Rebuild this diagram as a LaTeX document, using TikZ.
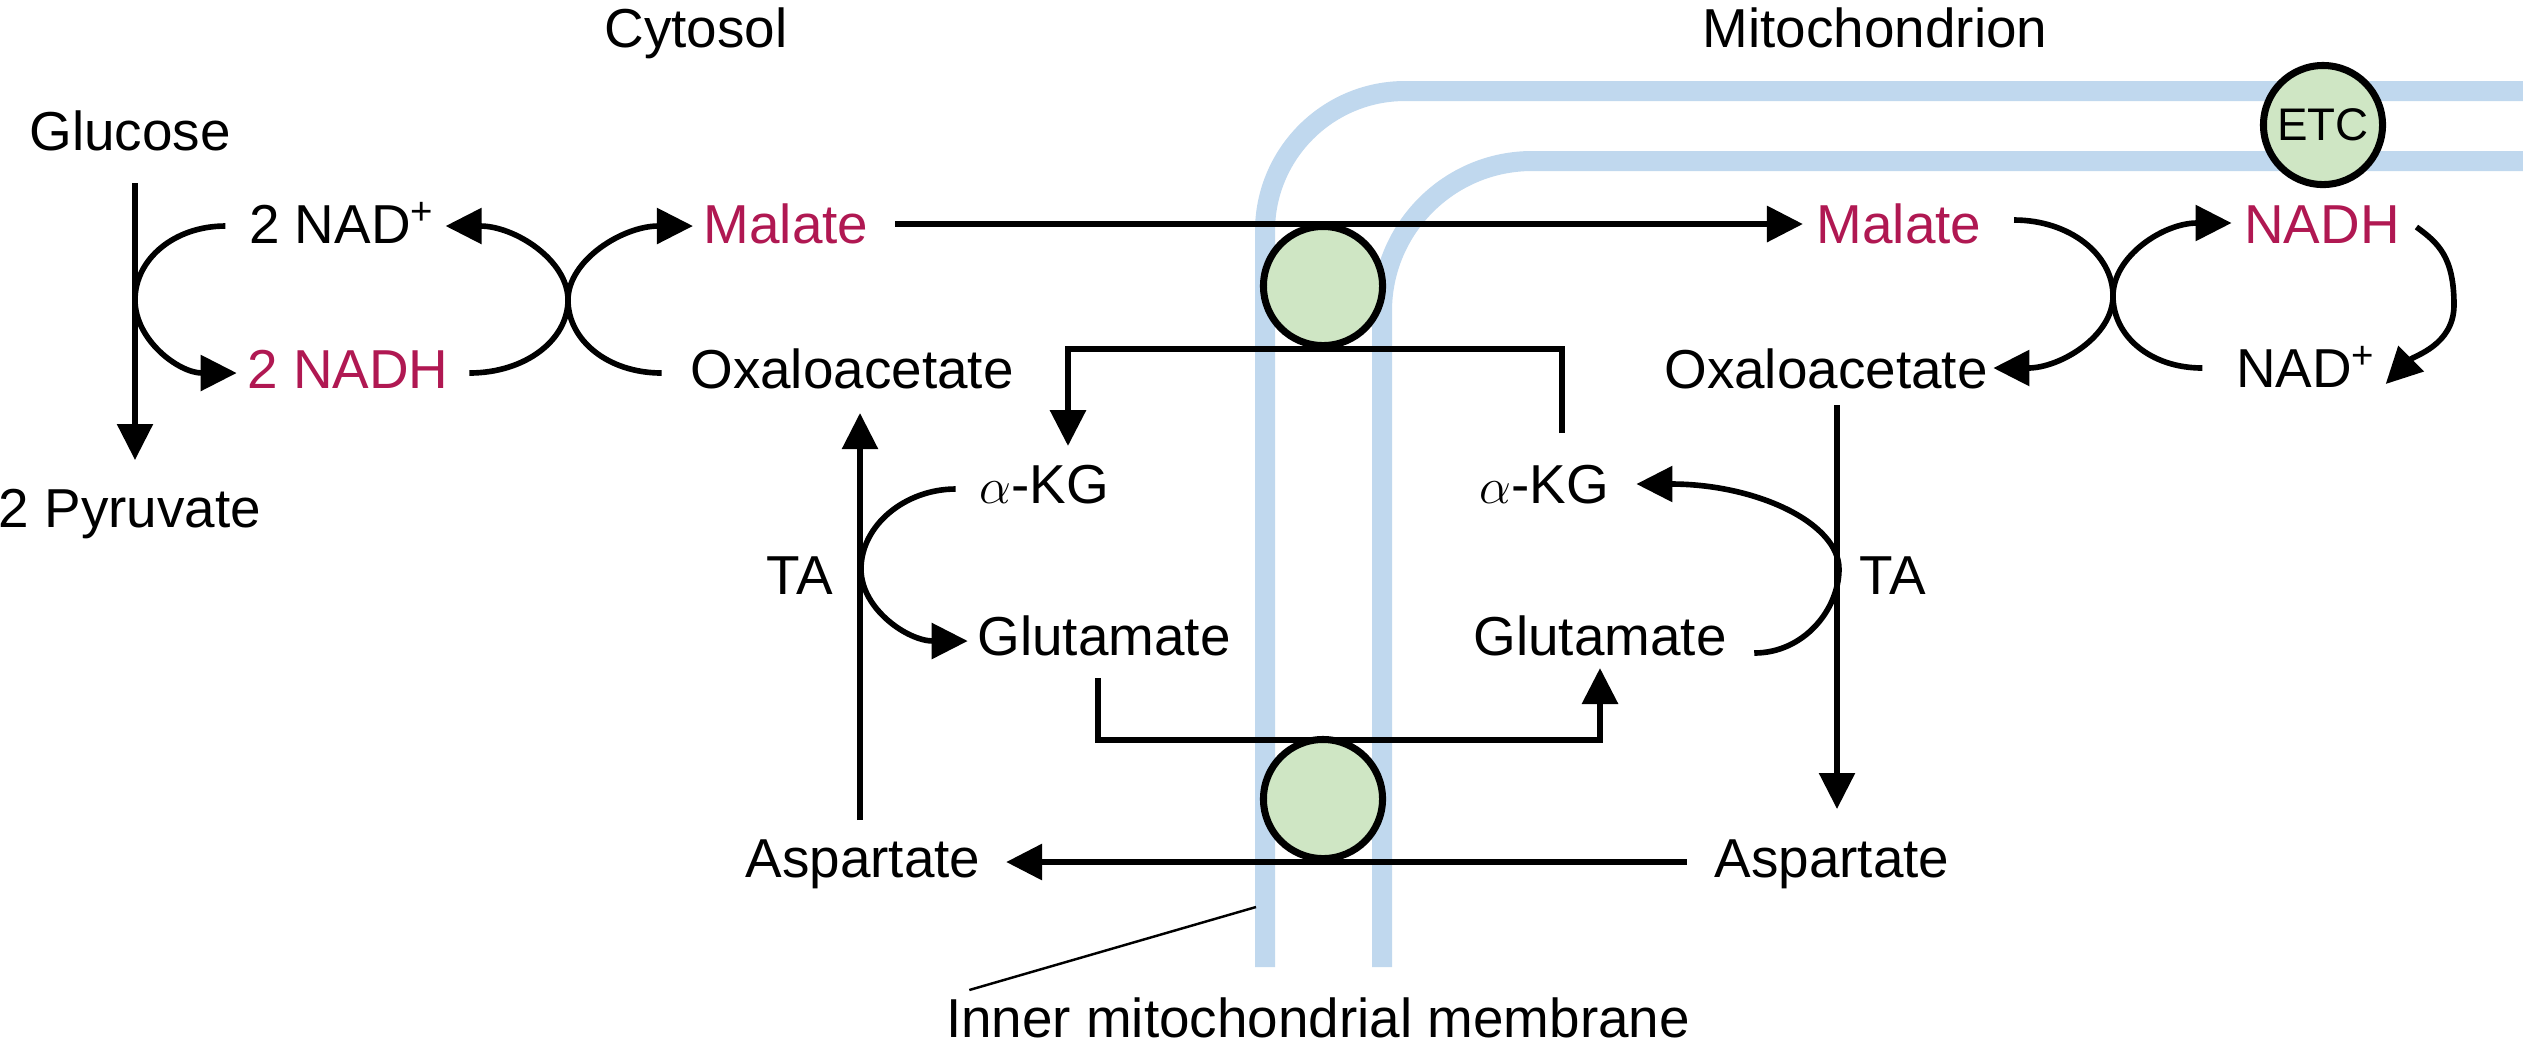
\documentclass[tikz,border=0pt]{standalone}
\usepackage{fontspec}
\setmainfont{Liberation Sans}
\usetikzlibrary{arrows.meta}
\definecolor{magc}{RGB}{176,24,82}
\definecolor{membc}{RGB}{192,216,238}
\definecolor{tgreen}{RGB}{207,230,196}
\begin{document}
\begin{tikzpicture}[x=0.01cm,y=-0.01cm,
  txt/.style={inner sep=0pt, anchor=base, font=\fontsize{15.6}{18}\selectfont},
  magt/.style={text=magc},
  con/.style={line width=1.6pt},
  arr/.style={con, -{Triangle[length=0.36cm,width=0.35cm]}},
  harr/.style={line width=1.8pt, -{Triangle[length=0.36cm,width=0.35cm]}},
  band/.style={draw=membc, line width=0.2cm},
  trans/.style={circle, draw=black, fill=tgreen, line width=2pt, minimum size=1.19cm, inner sep=0pt}]
\fill[white] (0,0) rectangle (2523,1056);
\useasboundingbox (0,0) rectangle (2523,1056);
% membranes
\draw[band, rounded corners=1.4cm] (1265,967) -- (1265,91) -- (2523,91);
\draw[band, rounded corners=1.5cm] (1382,967) -- (1382,161) -- (2523,161);
% labels
\node[txt] (cyt) at (696,47) {Cytosol};
\node[txt] (mito) at (1875,47) {Mitochondrion};
\node[txt] (glc) at (130,150) {Glucose};
\node[txt] (pyr) at (130,527) {2 Pyruvate};
\node[txt] (nadC) at (342,243) {2 NAD\textsuperscript{+}};
\node[txt,magt] (nadhC) at (348,388) {2 NADH};
\node[txt,magt] (malC) at (786,243) {Malate};
\node[txt] (oaaC) at (852,388) {Oxaloacetate};
\node[txt,magt] (malM) at (1899,243) {Malate};
\node[txt] (oaaM) at (1826,388) {Oxaloacetate};
\node[txt,magt] (nadhM) at (2322,243) {NADH};
\node[txt] (nadM) at (2306,387) {NAD\textsuperscript{+}};
\node[txt] (akgC) at (1044,503) {$\alpha$-KG};
\node[txt] (akgM) at (1544,503) {$\alpha$-KG};
\node[txt] (taC) at (800,594) {TA};
\node[txt] (taM) at (1893,594) {TA};
\node[txt] (gluC) at (1104,655) {Glutamate};
\node[txt] (gluM) at (1600,655) {Glutamate};
\node[txt] (aspC) at (863,877) {Aspartate};
\node[txt] (aspM) at (1832,877) {Aspartate};
\node[txt] (imm) at (1318,1037) {Inner mitochondrial membrane};
% glycolysis
\draw[arr] ([shift={(5,33)}]glc.base) -- ([shift={(5,-67)}]pyr.base);
\draw[arr] ([shift={(-23,-17)}]nadC.base west) .. controls +(-51,0) and +(0,-41) .. (135,300)
  .. controls +(0,40) and +(-58,0) .. ([shift={(-10,-15)}]nadhC.base west);
% cytosolic MDH
\draw[arr] ([shift={(20,-15)}]nadhC.base east) .. controls +(56,0) and +(0,40) .. (568,300)
  .. controls +(0,-40) and +(69,0) .. ([shift={(10,-17)}]nadC.base east);
\draw[arr] ([shift={(-28,-15)}]oaaC.base west) .. controls +(-54,0) and +(0,40) .. (568,300)
  .. controls +(0,-40) and +(-70,0) .. ([shift={(-10,-17)}]malC.base west);
% malate transport
\draw[harr] ([shift={(26,-19)}]malC.base east) -- ([shift={(-13,-19)}]malM.base west);
% alpha-KG transport
\draw[harr] ([shift={(18,-70)}]akgM.base) -- ++(0,-84) -| ([shift={(24,-57)}]akgC.base);
% glutamate transport
\draw[harr] ([shift={(-6,23)}]gluC.base) -- ++(0,62) -| ([shift={(0,13)}]gluM.base);
% aspartate transport
\draw[harr] ([shift={(-27,-15)}]aspM.base west) -- ([shift={(25,-15)}]aspC.base east);
% cytosolic transamination
\draw[arr] ([shift={(-3,-57)}]aspC.base) -- ([shift={(8,25)}]oaaC.base);
\draw[arr] ([shift={(-23,-14)}]akgC.base west) .. controls +(-50,0) and +(0,-44) .. (861,569)
  .. controls +(0,40) and +(-60,0) .. ([shift={(-9,-14)}]gluC.base west);
% mitochondrial transamination
\draw[arr] ([shift={(11,17)}]oaaM.base) -- ([shift={(5,-68)}]aspM.base);
\draw[arr] ([shift={(27,-2)}]gluM.base east) .. controls +(50,0) and +(0,40) .. (1839,569)
  .. controls +(0,-46) and +(120,0) .. ([shift={(27,-19)}]akgM.base east);
% mitochondrial MDH
\draw[arr] ([shift={(32,-23)}]malM.base east) .. controls +(55,0) and +(0,-42) .. (2113,296)
  .. controls +(0,40) and +(67,0) .. ([shift={(5,-20)}]oaaM.base east);
\draw[arr] ([shift={(-33,-19)}]nadM.base west) .. controls +(-52,0) and +(0,40) .. (2113,296)
  .. controls +(0,-40) and +(-68,0) .. ([shift={(-12,-20)}]nadhM.base west);
\draw[arr] ([shift={(16,-16)}]nadhM.base east) .. controls +(22,16) and +(0,-48) .. (2454,305)
  .. controls +(0,40) and +(28,-28) .. ([shift={(9,-3)}]nadM.base east);
% membrane label
\coordinate (mpt) at (1256,907);
\draw[line width=0.7pt] (mpt) -- ([shift={(24,-47)}]imm.base west);
% transporters
\node[trans] (t1) at (1323,286) {};
\node[trans] (t2) at (1323,799) {};
\node[trans, font=\fontsize{13}{15}\selectfont] (etc) at (2323,125) {ETC};
\end{tikzpicture}
\end{document}
